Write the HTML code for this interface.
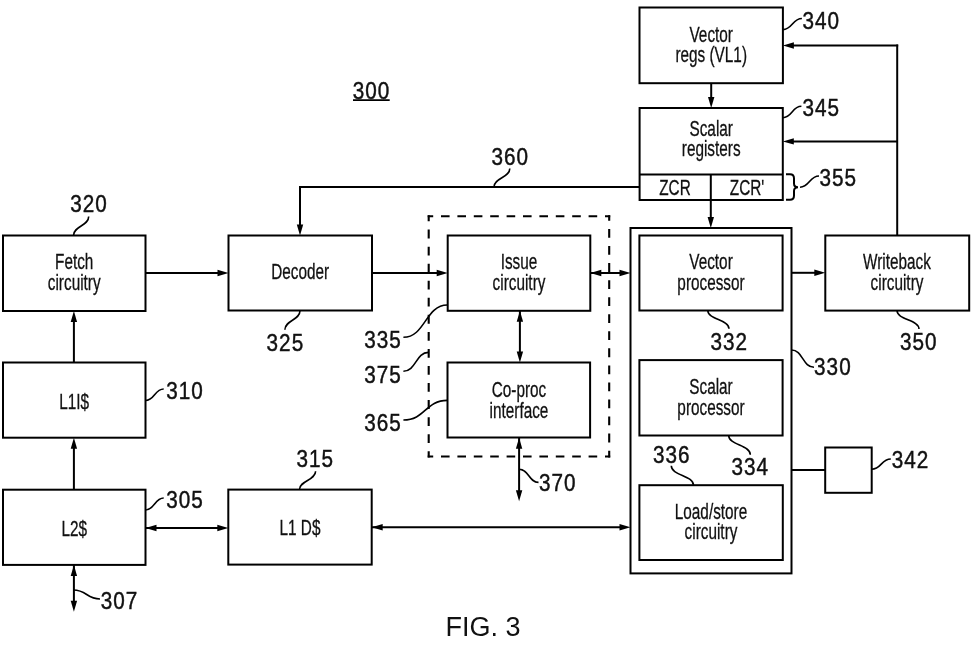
<!DOCTYPE html>
<html><head><meta charset="utf-8"><style>
html,body{margin:0;padding:0;background:#fff;}
body{width:975px;height:649px;overflow:hidden;}
svg{display:block;will-change:transform;}
text{font-family:"Liberation Sans",sans-serif;fill:#111;}
.n{stroke:#111;stroke-width:0.45px;}
.b{stroke:#111;stroke-width:0.3px;}
</style></head><body>
<svg width="975" height="649" viewBox="0 0 975 649">
<rect width="975" height="649" fill="#fff"/>
<rect x="3" y="235.5" width="142.50" height="75.50" fill="none" stroke="#000" stroke-width="2.0" />
<text transform="translate(74.20,268.80) scale(0.697,1)" font-size="22" text-anchor="middle" class="b">Fetch</text>
<text transform="translate(74.20,289.80) scale(0.697,1)" font-size="22" text-anchor="middle" class="b">circuitry</text>
<rect x="3" y="362.5" width="142.50" height="75.20" fill="none" stroke="#000" stroke-width="2.0" />
<text transform="translate(74.20,408.80) scale(0.697,1)" font-size="22" text-anchor="middle" class="b">L1I$</text>
<rect x="3" y="489.7" width="142.50" height="75.20" fill="none" stroke="#000" stroke-width="2.0" />
<text transform="translate(74.20,536.30) scale(0.697,1)" font-size="22" text-anchor="middle" class="b">L2$</text>
<rect x="228.5" y="235.5" width="143.50" height="75.00" fill="none" stroke="#000" stroke-width="2.0" />
<text transform="translate(300.20,279.30) scale(0.697,1)" font-size="22" text-anchor="middle" class="b">Decoder</text>
<rect x="228.3" y="489.6" width="143.40" height="75.00" fill="none" stroke="#000" stroke-width="2.0" />
<text transform="translate(300.00,535.30) scale(0.697,1)" font-size="22" text-anchor="middle" class="b">L1 D$</text>
<rect x="447.7" y="235.5" width="142.60" height="75.30" fill="none" stroke="#000" stroke-width="2.0" />
<text transform="translate(519.00,268.60) scale(0.697,1)" font-size="22" text-anchor="middle" class="b">Issue</text>
<text transform="translate(519.00,289.50) scale(0.697,1)" font-size="22" text-anchor="middle" class="b">circuitry</text>
<rect x="447.5" y="362.5" width="142.60" height="75.00" fill="none" stroke="#000" stroke-width="2.0" />
<text transform="translate(519.00,396.80) scale(0.697,1)" font-size="22" text-anchor="middle" class="b">Co-proc</text>
<text transform="translate(519.00,417.50) scale(0.697,1)" font-size="22" text-anchor="middle" class="b">interface</text>
<rect x="639.5" y="7.5" width="143.40" height="75.70" fill="none" stroke="#000" stroke-width="2.0" />
<text transform="translate(711.20,41.60) scale(0.697,1)" font-size="22" text-anchor="middle" class="b">Vector</text>
<text transform="translate(711.20,61.50) scale(0.697,1)" font-size="22" text-anchor="middle" class="b">regs (VL1)</text>
<rect x="639.6" y="108" width="143.20" height="92.00" fill="none" stroke="#000" stroke-width="2.0" />
<line x1="639.6" y1="174.4" x2="782.8" y2="174.4" stroke="#000" stroke-width="2.0"/>
<line x1="710.8" y1="174.4" x2="710.8" y2="200" stroke="#000" stroke-width="2.0"/>
<text transform="translate(711.20,135.50) scale(0.697,1)" font-size="22" text-anchor="middle" class="b">Scalar</text>
<text transform="translate(711.20,156.00) scale(0.697,1)" font-size="22" text-anchor="middle" class="b">registers</text>
<text transform="translate(675.00,195.00) scale(0.697,1)" font-size="22" text-anchor="middle" class="b">ZCR</text>
<text transform="translate(747.00,195.00) scale(0.697,1)" font-size="22" text-anchor="middle" class="b">ZCR'</text>
<rect x="630.5" y="228" width="161.00" height="345.40" fill="none" stroke="#000" stroke-width="2.0" />
<rect x="639.4" y="235.5" width="143.20" height="75.00" fill="none" stroke="#000" stroke-width="2.0" />
<text transform="translate(711.00,268.80) scale(0.697,1)" font-size="22" text-anchor="middle" class="b">Vector</text>
<text transform="translate(711.00,289.50) scale(0.697,1)" font-size="22" text-anchor="middle" class="b">processor</text>
<rect x="639.4" y="360.1" width="143.20" height="75.40" fill="none" stroke="#000" stroke-width="2.0" />
<text transform="translate(711.00,393.60) scale(0.697,1)" font-size="22" text-anchor="middle" class="b">Scalar</text>
<text transform="translate(711.00,414.80) scale(0.697,1)" font-size="22" text-anchor="middle" class="b">processor</text>
<rect x="639.4" y="485.2" width="143.40" height="74.80" fill="none" stroke="#000" stroke-width="2.0" />
<text transform="translate(711.00,518.70) scale(0.697,1)" font-size="22" text-anchor="middle" class="b">Load/store</text>
<text transform="translate(711.00,538.50) scale(0.697,1)" font-size="22" text-anchor="middle" class="b">circuitry</text>
<rect x="825.3" y="235.5" width="143.90" height="75.10" fill="none" stroke="#000" stroke-width="2.0" />
<text transform="translate(897.00,268.80) scale(0.697,1)" font-size="22" text-anchor="middle" class="b">Writeback</text>
<text transform="translate(897.00,289.50) scale(0.697,1)" font-size="22" text-anchor="middle" class="b">circuitry</text>
<rect x="825.2" y="447.5" width="46.50" height="45.30" fill="none" stroke="#000" stroke-width="2.0" />
<line x1="427.7" y1="216.3" x2="610.2" y2="216.3" stroke="#000" stroke-width="2.1" fill="none" stroke-dasharray="8.6 7.8" stroke-dashoffset="3.1"/>
<line x1="427.7" y1="456.5" x2="610.2" y2="456.5" stroke="#000" stroke-width="2.1" fill="none" stroke-dasharray="8.6 7.8" stroke-dashoffset="3.1"/>
<line x1="428.7" y1="215.3" x2="428.7" y2="457.5" stroke="#000" stroke-width="2.1" fill="none" stroke-dasharray="8.8 8.25" stroke-dashoffset="2.75"/>
<line x1="609.2" y1="215.3" x2="609.2" y2="457.5" stroke="#000" stroke-width="2.1" fill="none" stroke-dasharray="8.8 8.25" stroke-dashoffset="3.35"/>
<line x1="145.5" y1="273" x2="219.5" y2="273.0" stroke="#000" stroke-width="2.0"/>
<polygon points="228.5,273 217.50,276.20 217.50,269.80" fill="#000"/>
<line x1="372" y1="273" x2="438.7" y2="273.0" stroke="#000" stroke-width="2.0"/>
<polygon points="447.7,273 436.70,276.20 436.70,269.80" fill="#000"/>
<line x1="590.3" y1="273" x2="621.5" y2="273.0" stroke="#000" stroke-width="2.0"/>
<polygon points="630.5,273 619.50,276.20 619.50,269.80" fill="#000"/>
<polygon points="590.3,273 601.30,269.80 601.30,276.20" fill="#000"/>
<line x1="791.5" y1="272.8" x2="816.3" y2="272.8" stroke="#000" stroke-width="2.0"/>
<polygon points="825.3,272.8 814.30,276.00 814.30,269.60" fill="#000"/>
<line x1="73.9" y1="362.3" x2="73.9" y2="320.0" stroke="#000" stroke-width="2.0"/>
<polygon points="73.9,311 77.10,322.00 70.70,322.00" fill="#000"/>
<line x1="73.9" y1="489.7" x2="73.9" y2="446.7" stroke="#000" stroke-width="2.0"/>
<polygon points="73.9,437.7 77.10,448.70 70.70,448.70" fill="#000"/>
<line x1="145.5" y1="528" x2="219.3" y2="528.0" stroke="#000" stroke-width="2.0"/>
<polygon points="228.3,528 217.30,531.20 217.30,524.80" fill="#000"/>
<polygon points="145.5,528 156.50,524.80 156.50,531.20" fill="#000"/>
<line x1="371.7" y1="527.3" x2="621.5" y2="527.3" stroke="#000" stroke-width="2.0"/>
<polygon points="630.5,527.3 619.50,530.50 619.50,524.10" fill="#000"/>
<polygon points="371.7,527.3 382.70,524.10 382.70,530.50" fill="#000"/>
<line x1="73.9" y1="565" x2="73.9" y2="602.7" stroke="#000" stroke-width="2.0"/>
<polygon points="73.9,611.7 70.70,600.70 77.10,600.70" fill="#000"/>
<polygon points="73.9,565 77.10,576.00 70.70,576.00" fill="#000"/>
<line x1="519.9" y1="310.8" x2="519.9" y2="353.5" stroke="#000" stroke-width="2.0"/>
<polygon points="519.9,362.5 516.70,351.50 523.10,351.50" fill="#000"/>
<polygon points="519.9,310.8 523.10,321.80 516.70,321.80" fill="#000"/>
<line x1="519.1" y1="437.7" x2="519.1" y2="492.2" stroke="#000" stroke-width="2.0"/>
<polygon points="519.1,501.2 515.90,490.20 522.30,490.20" fill="#000"/>
<polygon points="519.1,437.7 522.30,448.70 515.90,448.70" fill="#000"/>
<line x1="711.2" y1="83.2" x2="711.2" y2="99.0" stroke="#000" stroke-width="2.0"/>
<polygon points="711.2,108 708.00,97.00 714.40,97.00" fill="#000"/>
<line x1="710.8" y1="200" x2="710.8" y2="219.0" stroke="#000" stroke-width="2.0"/>
<polygon points="710.8,228 707.60,217.00 714.00,217.00" fill="#000"/>
<polyline points="639.6,187 300,187 300,226" fill="none" stroke="#000" stroke-width="2"/>
<polygon points="300,235.5 296.80,224.50 303.20,224.50" fill="#000"/>
<polyline points="825.3,235.5 897.2,235.5" fill="none" stroke="none"/>
<line x1="897.2" y1="235.5" x2="897.2" y2="44.5" stroke="#000" stroke-width="2.0"/>
<line x1="898.2" y1="45.5" x2="791.9" y2="45.5" stroke="#000" stroke-width="2.0"/>
<polygon points="782.9,45.5 793.90,42.30 793.90,48.70" fill="#000"/>
<line x1="897.2" y1="141.4" x2="791.8" y2="141.4" stroke="#000" stroke-width="2.0"/>
<polygon points="782.8,141.4 793.80,138.20 793.80,144.60" fill="#000"/>
<line x1="791.5" y1="470" x2="825.2" y2="470" stroke="#000" stroke-width="2.0"/>
<text transform="translate(352.81,99.05) scale(0.9,1)" font-size="23" letter-spacing="1.11" class="n">300</text>
<line x1="353" y1="100.1" x2="389.7" y2="100.1" stroke="#000" stroke-width="1.8"/>
<text transform="translate(70.21,212.05) scale(0.9,1)" font-size="23" letter-spacing="1.11" class="n">320</text>
<path d="M73.5,235.5 C73.5,226.05 88.7,226.05 88.7,216.6" fill="none" stroke="#000" stroke-width="1.6"/>
<text transform="translate(166.21,398.65) scale(0.9,1)" font-size="23" letter-spacing="1.11" class="n">310</text>
<path d="M145.5,400.5 C154.60,400.5 154.60,389 163.7,389" fill="none" stroke="#000" stroke-width="1.6"/>
<text transform="translate(166.21,507.65) scale(0.9,1)" font-size="23" letter-spacing="1.11" class="n">305</text>
<path d="M145.5,510 C154.60,510 154.60,498 163.7,498" fill="none" stroke="#000" stroke-width="1.6"/>
<text transform="translate(100.71,608.65) scale(0.9,1)" font-size="23" letter-spacing="1.11" class="n">307</text>
<path d="M73.4,590 C86.70,590 86.70,599 100,599" fill="none" stroke="#000" stroke-width="1.6"/>
<text transform="translate(296.51,467.45) scale(0.9,1)" font-size="23" letter-spacing="1.11" class="n">315</text>
<path d="M299.5,489.6 C299.5,480.45 315.6,480.45 315.6,471.3" fill="none" stroke="#000" stroke-width="1.6"/>
<text transform="translate(266.61,350.65) scale(0.9,1)" font-size="23" letter-spacing="1.11" class="n">325</text>
<path d="M300,310.8 C300,320.25 284.9,320.25 284.9,329.7" fill="none" stroke="#000" stroke-width="1.6"/>
<text transform="translate(364.21,347.65) scale(0.9,1)" font-size="23" letter-spacing="1.11" class="n">335</text>
<path d="M403.4,337.3 C425.35,337.3 425.35,305 447.3,305" fill="none" stroke="#000" stroke-width="1.6"/>
<text transform="translate(364.21,382.65) scale(0.9,1)" font-size="23" letter-spacing="1.11" class="n">375</text>
<path d="M403.4,371.3 C415.90,371.3 415.90,352.4 428.4,352.4" fill="none" stroke="#000" stroke-width="1.6"/>
<text transform="translate(364.21,431.35) scale(0.9,1)" font-size="23" letter-spacing="1.11" class="n">365</text>
<path d="M403.4,420 C425.35,420 425.35,400.4 447.3,400.4" fill="none" stroke="#000" stroke-width="1.6"/>
<text transform="translate(491.51,165.15) scale(0.9,1)" font-size="23" letter-spacing="1.11" class="n">360</text>
<path d="M494,187 C494,177.75 509.8,177.75 509.8,168.5" fill="none" stroke="#000" stroke-width="1.6"/>
<text transform="translate(539.01,490.65) scale(0.9,1)" font-size="23" letter-spacing="1.11" class="n">370</text>
<path d="M519.1,469.2 C528.80,469.2 528.80,482.4 538.5,482.4" fill="none" stroke="#000" stroke-width="1.6"/>
<text transform="translate(802.41,29.25) scale(0.9,1)" font-size="23" letter-spacing="1.11" class="n">340</text>
<path d="M782.9,29.6 C792.40,29.6 792.40,18.5 801.9,18.5" fill="none" stroke="#000" stroke-width="1.6"/>
<text transform="translate(802.51,115.85) scale(0.9,1)" font-size="23" letter-spacing="1.11" class="n">345</text>
<path d="M782.8,117.7 C792.10,117.7 792.10,106.3 801.4,106.3" fill="none" stroke="#000" stroke-width="1.6"/>
<text transform="translate(819.51,186.15) scale(0.9,1)" font-size="23" letter-spacing="1.11" class="n">355</text>
<path d="M800,187.2 C809.50,187.2 809.50,176 819,176" fill="none" stroke="#000" stroke-width="1.6"/>
<text transform="translate(900.01,349.85) scale(0.9,1)" font-size="23" letter-spacing="1.11" class="n">350</text>
<path d="M897,310.6 C897,319.80 919,319.80 919,329" fill="none" stroke="#000" stroke-width="1.6"/>
<text transform="translate(814.11,375.35) scale(0.9,1)" font-size="23" letter-spacing="1.11" class="n">330</text>
<path d="M791.5,350 C802.75,350 802.75,367.3 814,367.3" fill="none" stroke="#000" stroke-width="1.6"/>
<text transform="translate(710.41,349.95) scale(0.9,1)" font-size="23" letter-spacing="1.11" class="n">332</text>
<path d="M707.8,310.5 C707.8,319.60 729,319.60 729,328.7" fill="none" stroke="#000" stroke-width="1.6"/>
<text transform="translate(731.51,475.45) scale(0.9,1)" font-size="23" letter-spacing="1.11" class="n">334</text>
<path d="M728.7,435.5 C728.7,445.10 750.3,445.10 750.3,454.7" fill="none" stroke="#000" stroke-width="1.6"/>
<text transform="translate(653.01,462.95) scale(0.9,1)" font-size="23" letter-spacing="1.11" class="n">336</text>
<path d="M671.3,465.8 C671.3,475.50 693.5,475.50 693.5,485.2" fill="none" stroke="#000" stroke-width="1.6"/>
<text transform="translate(891.81,468.45) scale(0.9,1)" font-size="23" letter-spacing="1.11" class="n">342</text>
<path d="M871.7,469.3 C881.25,469.3 881.25,459 890.8,459" fill="none" stroke="#000" stroke-width="1.6"/>
<path d="M786,174.3 L790,174.3 Q794,174.3 794,178.5 L794,183.5 Q794,187.2 798,187.2 Q794,187.2 794,191 L794,195.5 Q794,199.8 790,199.8 L786,199.8" fill="none" stroke="#000" stroke-width="2"/>
<text x="445.49" y="636.15" font-size="27">FIG. 3</text>
</svg>
</body></html>
